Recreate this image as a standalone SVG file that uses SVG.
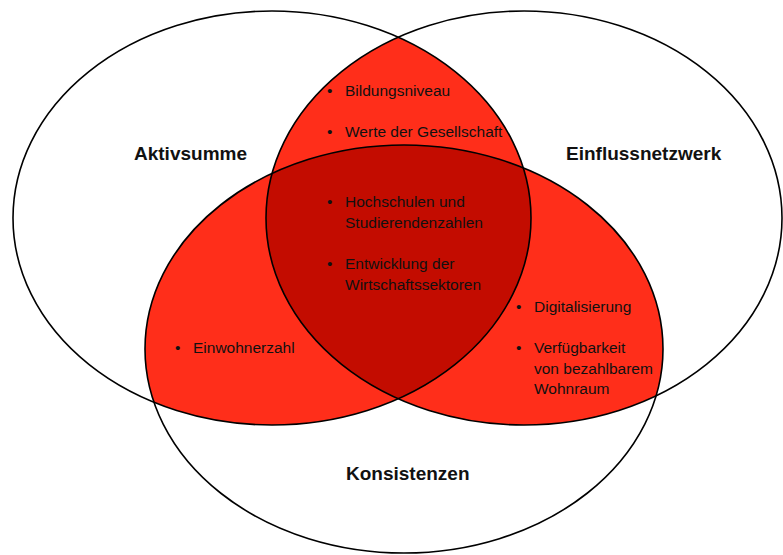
<svg xmlns="http://www.w3.org/2000/svg" width="783" height="555" viewBox="0 0 783 555">
<style>
.ring{fill:none;stroke:#000;stroke-width:1.6}
.lbl{font-family:"Liberation Sans",Arial,sans-serif;font-weight:bold;font-size:19px;fill:#111}
.itm{font-family:"Liberation Sans",Arial,sans-serif;font-size:15.5px;fill:#111}
.pair{fill:#FF2E1A}
.tri{fill:#C30C00}
</style>
<defs>
<clipPath id="cA"><ellipse cx="272" cy="218" rx="259" ry="207"/></clipPath>
<clipPath id="cB"><ellipse cx="524" cy="218" rx="258" ry="207"/></clipPath>
<clipPath id="cC"><ellipse cx="404" cy="349" rx="259" ry="204"/></clipPath>
</defs>
<rect width="783" height="555" fill="#fff"/>
<g id="fills">
<g clip-path="url(#cA)"><ellipse class="pair" cx="524" cy="218" rx="258" ry="207"/></g>
<g clip-path="url(#cA)"><ellipse class="pair" cx="404" cy="349" rx="259" ry="204"/></g>
<g clip-path="url(#cB)"><ellipse class="pair" cx="404" cy="349" rx="259" ry="204"/></g>
<g clip-path="url(#cA)"><g clip-path="url(#cB)"><ellipse class="tri" cx="404" cy="349" rx="259" ry="204"/></g></g>
</g>
<g id="aktivsumme">
<ellipse class="ring" cx="272" cy="218" rx="259" ry="207"/>
<text class="lbl" x="134" y="160">Aktivsumme</text>
</g>
<g id="einflussnetzwerk">
<ellipse class="ring" cx="524" cy="218" rx="258" ry="207"/>
<text class="lbl" x="566" y="160">Einflussnetzwerk</text>
</g>
<g id="konsistenzen">
<ellipse class="ring" cx="404" cy="349" rx="259" ry="204"/>
<text class="lbl" x="346" y="480">Konsistenzen</text>
</g>
<g id="aktiv-einfluss">
<text class="itm" x="327" y="96">•</text><text class="itm" x="345" y="96">Bildungsniveau</text>
<text class="itm" x="327" y="137">•</text><text class="itm" x="345" y="137">Werte der Gesellschaft</text>
</g>
<g id="center">
<text class="itm" x="327" y="207">•</text><text class="itm" x="345" y="207">Hochschulen und</text>
<text class="itm" x="345" y="228">Studierendenzahlen</text>
<text class="itm" x="327" y="269">•</text><text class="itm" x="345" y="269">Entwicklung der</text>
<text class="itm" x="345" y="290">Wirtschaftssektoren</text>
</g>
<g id="aktiv-konsistenz">
<text class="itm" x="175" y="353">•</text><text class="itm" x="193" y="353">Einwohnerzahl</text>
</g>
<g id="einfluss-konsistenz">
<text class="itm" x="516" y="312">•</text><text class="itm" x="534" y="312">Digitalisierung</text>
<text class="itm" x="516" y="353">•</text><text class="itm" x="534" y="353">Verfügbarkeit</text>
<text class="itm" x="534" y="374">von bezahlbarem</text>
<text class="itm" x="534" y="394">Wohnraum</text>
</g>
</svg>
